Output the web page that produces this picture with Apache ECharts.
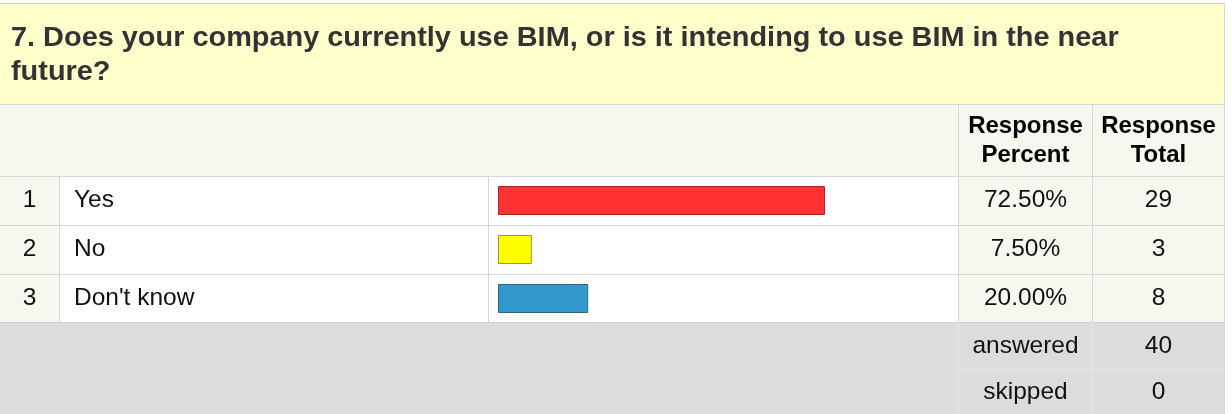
<!DOCTYPE html>
<html>
<head>
<meta charset="utf-8">
<script src="https://cdn.jsdelivr.net/npm/echarts@6/dist/echarts.min.js"></script>
<style>
html,body{margin:0;padding:0;background:#fff;}
#chart{width:1232px;height:414px;}
</style>
</head>
<body>
<div id="chart"></div>
<script>
// ---- data ----
const titleLines = ['7. Does your company currently use BIM, or is it intending to use BIM in the near', 'future?'];
const rowNumbers = ['1', '2', '3'];
const categories = ['Yes', 'No', "Don't know"];
const percents = [72.5, 7.5, 20.0];
const totals = [29, 3, 8];
const headerLabels = ['Response\nPercent', 'Response\nTotal'];
const footerLabels = ['answered', 'skipped'];
const footerValues = [40, 0];
const barColors = ['#ff3333', '#ffff00', '#3399cc'];
const barBorders = ['#b32222', '#9c9a2c', '#2c6385'];

// ---- layout ----
const FONT = 'Liberation Sans';
const W = 1232, H = 414;
const tableRight = 1225;
const colNum = 59, colLabel = 488, colPct = 958, colTot = 1092;
const titleTop = 4, titleBottom = 104, headBottom = 176, bodyBottom = 322, footMid = 369;
const lineC = '#d7d7d7';
const lightBg = '#f7f6ef';
const BODY = 24.5;

const chart = echarts.init(document.getElementById('chart'), null, {renderer: 'canvas'});

chart.setOption({
  animation: false,
  backgroundColor: '#ffffff',
  grid: {left: 498, right: W - 949, top: headBottom, bottom: H - bodyBottom - 1, containLabel: false},
  xAxis: {type: 'value', min: 0, max: 100, show: false},
  yAxis: {type: 'category', data: categories, inverse: true, show: false},
  series: [{
    type: 'bar',
    z: 5,
    barWidth: 29,
    data: percents.map((v, i) => ({
      value: v,
      itemStyle: {color: barColors[i], borderColor: barBorders[i], borderWidth: 1}
    }))
  }]
});

function rect(x, y, w, h, fill, z) {
  return {type: 'rect', silent: true, z: z || 0, shape: {x: x, y: y, width: w, height: h}, style: {fill: fill}};
}
function txt(x, y, s, opts) {
  opts = opts || {};
  return {
    type: 'text', silent: true, z: 10, x: x, y: y, scaleX: opts.sx || 1,
    style: {
      text: s, fill: opts.color || '#111',
      fontFamily: FONT, fontSize: opts.size || BODY, fontWeight: opts.bold ? 'bold' : 'normal',
      align: opts.align || 'center', verticalAlign: 'middle', lineHeight: opts.lh || 29
    }
  };
}

const rowCenters = categories.map(c => chart.convertToPixel({yAxisIndex: 0}, c));
const band = rowCenters.length > 1 ? rowCenters[1] - rowCenters[0] : 49;

const g = [];
// backgrounds
g.push(rect(0, titleTop, tableRight, titleBottom - titleTop, '#ffffcc'));
g.push(rect(0, titleBottom, tableRight, headBottom - titleBottom, lightBg));
g.push(rect(0, headBottom, colNum, bodyBottom - headBottom, lightBg));
g.push(rect(colNum, headBottom, colPct - colNum, bodyBottom - headBottom, '#ffffff'));
g.push(rect(colPct, headBottom, tableRight - colPct, bodyBottom - headBottom, lightBg));
g.push(rect(0, bodyBottom, tableRight, H - bodyBottom, '#dcdcdc'));
// horizontal lines
g.push(rect(0, titleTop - 1, tableRight, 1, '#d0d0d0', 1));
g.push(rect(0, titleBottom, tableRight, 1, lineC, 1));
g.push(rect(0, headBottom, tableRight, 1, lineC, 1));
rowCenters.forEach((c, i) => {
  if (i < rowCenters.length - 1) g.push(rect(0, Math.round(c + band / 2), tableRight, 1, lineC, 1));
});
g.push(rect(0, bodyBottom, tableRight, 1, '#d0d0d0', 1));
g.push(rect(colPct, footMid, tableRight - colPct, 1, '#e6e6e6', 1));
// vertical lines
g.push(rect(colNum, headBottom, 1, bodyBottom - headBottom, lineC, 1));
g.push(rect(colLabel, headBottom, 1, bodyBottom - headBottom, lineC, 1));
g.push(rect(colPct, titleBottom, 1, bodyBottom - titleBottom, lineC, 1));
g.push(rect(colTot, titleBottom, 1, bodyBottom - titleBottom, lineC, 1));
g.push(rect(colPct, bodyBottom, 1, H - bodyBottom, '#e6e6e6', 1));
g.push(rect(colTot, bodyBottom, 1, H - bodyBottom, '#e6e6e6', 1));
g.push(rect(tableRight - 1, titleTop - 1, 1, H - titleTop + 1, lineC, 1));

// title
g.push(txt(11, 38.5, titleLines[0], {align: 'left', bold: true, size: 27, sx: 1.07, color: '#333333'}));
g.push(txt(11, 72.5, titleLines[1], {align: 'left', bold: true, size: 27, sx: 1.07, color: '#333333'}));
// header
const pctCx = (colPct + colTot) / 2 + 0.5, totCx = (colTot + tableRight) / 2;
g.push(txt(pctCx, (titleBottom + headBottom) / 2 + 1, headerLabels[0], {bold: true, size: 24, color: '#000'}));
g.push(txt(totCx, (titleBottom + headBottom) / 2 + 1, headerLabels[1], {bold: true, size: 24, color: '#000'}));
// rows
rowCenters.forEach((c, i) => {
  g.push(txt(colNum / 2, c, rowNumbers[i]));
  g.push(txt(74, c, categories[i], {align: 'left'}));
  g.push(txt(pctCx, c, percents[i].toFixed(2) + '%'));
  g.push(txt(totCx, c, String(totals[i])));
});
// footer
const footCenters = [(bodyBottom + footMid) / 2 + 1, (footMid + H) / 2 + 1];
footerLabels.forEach((l, i) => {
  g.push(txt(pctCx, footCenters[i], l));
  g.push(txt(totCx, footCenters[i], String(footerValues[i])));
});

chart.setOption({graphic: {elements: g}});
</script>
</body>
</html>
